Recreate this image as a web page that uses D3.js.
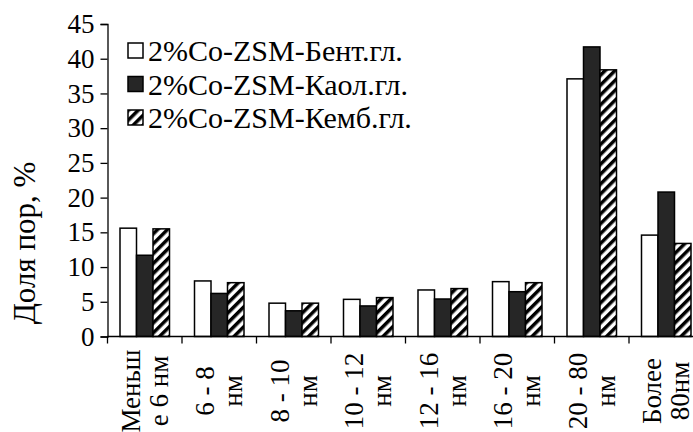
<!DOCTYPE html>
<html>
<head>
<meta charset="utf-8">
<script src="https://cdn.jsdelivr.net/npm/d3@7"></script>
</head>
<body style="margin:0">
<div id="chart"></div>
<script>
const categories = ['Меньше 6 нм', '6 - 8 нм', '8 - 10 нм', '10 - 12 нм', '12 - 16 нм', '16 - 20 нм', '20 - 80 нм', 'Более 80нм']
const categoryLines = [
  ['Меньш', 'е 6 нм'], ['6 - 8', 'нм'], ['8 - 10', 'нм'], ['10 - 12', 'нм'],
  ['12 - 16', 'нм'], ['16 - 20', 'нм'], ['20 - 80', 'нм'], ['Более', '80нм']
]
const seriesNames = ['2%Co-ZSM-Бент.гл.', '2%Co-ZSM-Каол.гл.', '2%Co-ZSM-Кемб.гл.']
const bentValues = [15.6, 8.0, 4.8, 5.35, 6.7, 7.9, 37.1, 14.6]
const kaolValues = [11.7, 6.2, 3.7, 4.4, 5.4, 6.45, 41.7, 20.8]
const kembValues = [15.5, 7.75, 4.8, 5.6, 6.9, 7.75, 38.4, 13.4]
const yTicks = [0, 5, 10, 15, 20, 25, 30, 35, 40, 45]

const series = [bentValues, kaolValues, kembValues]
const fills = ['#ffffff', '#262626', 'url(#hatch)']
const textStyle = size => `font-family: "Liberation Serif"; font-size: ${size}px`

const width = 693
const height = 432
const margin = { top: 24, left: 107.5, bottom: 336.5 }

const svg = d3.select('#chart')
  .append('svg')
  .attr('width', width)
  .attr('height', height)

const defs = svg.append('defs')
const pattern = defs.append('pattern')
  .attr('id', 'hatch')
  .attr('patternUnits', 'userSpaceOnUse')
  .attr('width', 7)
  .attr('height', 7)
  .attr('patternTransform', 'rotate(45)')
pattern.append('rect').attr('width', 7).attr('height', 7).attr('fill', '#fff')
pattern.append('rect').attr('x', 0).attr('width', 3.5).attr('height', 7).attr('fill', '#000')

const x0 = d3.scaleBand()
  .domain(categories)
  .range([margin.left, 703.5])
  .padding(0)

const x1 = d3.scaleBand()
  .domain(d3.range(series.length))
  .range([12.5, x0.bandwidth() - 12.5])
  .padding(0)

const y = d3.scaleLinear()
  .domain([0, 45])
  .range([margin.bottom, margin.top])

// bars
const groups = svg.append('g')
  .selectAll('g')
  .data(categories)
  .join('g')
  .attr('transform', d => `translate(${x0(d)},0)`)

groups.selectAll('rect')
  .data((d, i) => series.map((s, k) => ({ k, v: s[i] })))
  .join('rect')
  .attr('x', d => x1(d.k))
  .attr('y', d => y(d.v))
  .attr('width', x1.bandwidth())
  .attr('height', d => y(0) - y(d.v))
  .attr('fill', d => fills[d.k])
  .attr('stroke', '#000')
  .attr('stroke-width', 1.5)

// y axis
const yAxis = svg.append('g')
  .attr('transform', `translate(${margin.left},0)`)
  .call(d3.axisLeft(y).tickValues(yTicks).tickSize(7).tickPadding(6))
yAxis.attr('font-family', null).attr('font-size', null)
yAxis.select('.domain').attr('stroke-width', 1.3)
yAxis.selectAll('.tick line').attr('stroke-width', 1.3)
yAxis.selectAll('text')
  .attr('style', textStyle(27))
  .attr('fill', '#000')

// x axis
const xAxisG = svg.append('g')
  .attr('transform', `translate(0,${margin.bottom})`)
xAxisG.append('line')
  .attr('x1', margin.left).attr('x2', width)
  .attr('stroke', '#000').attr('stroke-width', 1.3)
xAxisG.selectAll('.xtick')
  .data(categories)
  .join('line')
  .attr('class', 'xtick')
  .attr('x1', d => x0(d)).attr('x2', d => x0(d))
  .attr('y1', 0).attr('y2', 7)
  .attr('stroke', '#000').attr('stroke-width', 1.3)

const labels = svg.append('g')
  .selectAll('g')
  .data(categories)
  .join('g')
  .attr('transform', d => `translate(${x0(d) + x0.bandwidth() / 2},391) rotate(-90)`)

labels.selectAll('text')
  .data((d, i) => categoryLines[i])
  .join('text')
  .attr('text-anchor', 'middle')
  .attr('y', (d, j) => j === 0 ? -5 : 23)
  .attr('style', textStyle(27))
  .attr('fill', '#000')
  .text(d => d)

// y title
svg.append('text')
  .attr('transform', 'translate(35,243) rotate(-90)')
  .attr('text-anchor', 'middle')
  .attr('style', textStyle(31))
  .attr('fill', '#000')
  .text('Доля пор, %')

// legend
const legend = svg.append('g')
  .selectAll('g')
  .data(seriesNames)
  .join('g')
  .attr('transform', (d, i) => `translate(128,${51 + i * 33.5})`)

legend.append('rect')
  .attr('x', 0).attr('y', -8)
  .attr('width', 15).attr('height', 15)
  .attr('fill', (d, i) => fills[i])
  .attr('stroke', '#000')
  .attr('stroke-width', 1.5)

legend.append('text')
  .attr('x', 20)
  .attr('y', 10)
  .attr('style', textStyle(30))
  .attr('fill', '#000')
  .text(d => d)
</script>
</body>
</html>
